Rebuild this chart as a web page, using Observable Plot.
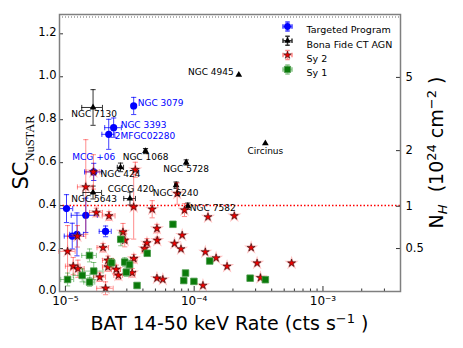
<!DOCTYPE html>
<html><head><meta charset="utf-8">
<script src="https://cdn.jsdelivr.net/npm/d3@7"></script>
<script src="https://cdn.jsdelivr.net/npm/@observablehq/plot@0.6"></script>
<style>body{margin:0;background:#fff}</style>
</head><body><div id="chart"></div>
<script>
// ---------- data ----------
// Targeted Program
const tpNames   = ["NGC 3079","NGC 3393","2MFGC02280","MCG +06","","","","",""];
const tpRate    = [3.39e-5,2.37e-5,2.17e-5,1.66e-5,1.02e-5,1.44e-5,2.05e-5,1.13e-5,1.23e-5];
const tpRateErr = [0.1e-5,0.35e-5,0.25e-5,0.25e-5,0.12e-5,0.33e-5,0.22e-5,0.15e-5,0.15e-5];
const tpSC      = [0.864,0.763,0.732,0.557,0.386,0.355,0.280,0.258,0.266];
const tpSCErr   = [0.04,0.045,0.07,0.04,0.065,0.08,0.025,0.06,0.1];
// Bona Fide CT AGN
const bfNames   = ["NGC 7130","NGC 4945","Circinus","NGC 1068","NGC 424","NGC 5728","NGC 6240","CGCG 420","NGC 5643","NGC 7582"];
const bfRate    = [1.64e-5,2.22e-4,3.57e-4,4.19e-5,2.68e-5,8.67e-5,7.24e-5,3.17e-5,1.64e-5,8.93e-5];
const bfRateErr = [0.3e-5,0,0,0.1e-5,0.15e-5,0.1e-5,0.2e-5,0.33e-5,0.27e-5,0.15e-5];
const bfSC      = [0.857,1.009,0.690,0.654,0.578,0.601,0.495,0.433,0.461,0.397];
const bfSCErr   = [0.083,0,0,0.012,0.02,0.012,0.015,0.03,0.03,0.015];
// Sy 2
const sy2Rate = [1.44e-5,1.65e-5,3.49e-5,3.39e-5,1.74e-5,2.18e-5,4.72e-5,7.38e-5,8.41e-5,1.28e-4,
  1.24e-5,1.04e-5,2.80e-5,2.89e-5,1.96e-5,4.12e-5,5.14e-5,5.17e-5,8.07e-5,4.30e-5,
  7.03e-5,7.90e-5,1.22e-4,1.48e-4,1.80e-4,2.05e-4,2.77e-4,3.08e-4,5.71e-4,3.27e-4,
  1.17e-4,5.14e-5,5.71e-5,1.15e-5,1.25e-5,2.14e-5,2.14e-5,2.48e-5,2.58e-5,3.30e-5,
  3.40e-5,2.05e-5,1.85e-5];
const sy2RateErr = [0.2e-5,0.2e-5,0.12e-5,0.15e-5,0.2e-5,0.25e-5,0.1e-5,0.1e-5,0.1e-5,0,
  0.2e-5,0.15e-5,0.15e-5,0.15e-5,0.2e-5,0.2e-5,0.1e-5,0.1e-5,0,0.15e-5,
  0,0,0,0,0,0,0,0,0,0,
  0,0.1e-5,0,0.15e-5,0.15e-5,0.2e-5,0.2e-5,0.2e-5,0.2e-5,0.2e-5,
  0.2e-5,0.3e-5,0.2e-5];
const sy2SC = [0.487,0.557,0.567,0.394,0.368,0.352,0.383,0.456,0.379,0.347,
  0.257,0.187,0.277,0.238,0.204,0.200,0.293,0.238,0.262,0.226,
  0.223,0.198,0.184,0.156,0.117,0.352,0.204,0.132,0.132,0.064,
  0.028,0.062,0.056,0.118,0.106,0.145,0.114,0.103,0.075,0.087,
  0.153,0.015,0.067];
const sy2SCErr = [0.22,0.08,0.035,0.15,0.02,0.02,0.04,0.05,0.03,0,
  0.05,0.12,0.04,0.03,0.02,0.02,0.02,0.015,0,0.02,
  0,0,0,0,0,0,0,0,0,0,
  0,0,0,0.04,0.04,0.02,0.02,0.02,0.02,0.02,
  0.02,0.03,0.02];
// Sy 1
const sy1Rate = [1.04e-5,1.35e-5,1.54e-5,1.54e-5,1.66e-5,2.28e-5,2.69e-5,2.89e-5,3.15e-5,2.97e-5,3.60e-5,4.32e-5,6.84e-5,8.57e-5,8.30e-5,9.95e-5,1.32e-4,2.72e-4,3.57e-4];
const sy1RateErr = [0.12e-5,0.2e-5,0.2e-5,0.15e-5,0.3e-5,0.15e-5,0.15e-5,0.15e-5,0.15e-5,0.1e-5,0,0,0,0,0,0,0,0,0];
const sy1SC = [0.056,0.075,0.168,0.044,0.095,0.134,0.243,0.137,0.125,0.090,0.028,0.178,0.313,0.086,0.051,0.047,0.142,0.062,0.055];
const sy1SCErr = [0.03,0.03,0.03,0.02,0.04,0.02,0.03,0.02,0.02,0.02,0,0,0,0,0,0,0,0,0];

// axes / reference lines
const xMajorTicks = [1e-5,1e-4,1e-3];
const yTicks = [0,0.2,0.4,0.6,0.8,1.0,1.2];
const nhTickLabels = ["0.5","1","2","5"];
const nhTickSC = [0.2,0.397,0.656,0.997];
const ctThresholdSC = [0.4];
const topLineSC = [1.278];
const seriesNames = ["Targeted Program","Bona Fide CT AGN","Sy 2","Sy 1"];

// ---------- build tables ----------
const mk = (names, rate, rerr, sc, serr) => rate.map((r,i)=>({name: names ? names[i] : "", rate:r, rateErr:rerr[i], sc:sc[i], scErr:serr[i]}));
const tp = mk(tpNames,tpRate,tpRateErr,tpSC,tpSCErr);
const bf = mk(bfNames,bfRate,bfRateErr,bfSC,bfSCErr);
const sy2 = mk(null,sy2Rate,sy2RateErr,sy2SC,sy2SCErr);
const sy1 = mk(null,sy1Rate,sy1RateErr,sy1SC,sy1SCErr);

// ---------- styling ----------
const W = 463, H = 348, mL = 59, mR = 63, mT = 14, mB = 57;
const fw = W - mL - mR, fh = H - mT - mB;
const FONT = "DejaVu Sans";
const hcap = {draw(c,s){const r=Math.sqrt(s/Math.PI);c.moveTo(-r,0);c.lineTo(r,0);}};
const vcap = {draw(c,s){const r=Math.sqrt(s/Math.PI);c.moveTo(0,-r);c.lineTo(0,r);}};
const errCross = {draw(c,s){const r=Math.sqrt(s/Math.PI),k=r*0.5;
  c.moveTo(-r,0);c.lineTo(r,0);c.moveTo(-r,-k);c.lineTo(-r,k);c.moveTo(r,-k);c.lineTo(r,k);
  c.moveTo(0,-r);c.lineTo(0,r);c.moveTo(-k,-r);c.lineTo(k,-r);c.moveTo(-k,r);c.lineTo(k,r);}};

function errorMarks(data, color, opacity) {
  const ye = data.filter(d=>d.scErr>0), xe = data.filter(d=>d.rateErr>0);
  const o = {stroke: color, strokeOpacity: opacity, strokeWidth: 1};
  return [
    Plot.ruleX(ye, {x:"rate", y1:d=>d.sc-d.scErr, y2:d=>d.sc+d.scErr, ...o}),
    Plot.ruleY(xe, {y:"sc", x1:d=>d.rate-d.rateErr, x2:d=>d.rate+d.rateErr, ...o}),
    Plot.dot(ye, {x:"rate", y:d=>d.sc-d.scErr, symbol:hcap, r:2.6, fill:"none", ...o}),
    Plot.dot(ye, {x:"rate", y:d=>d.sc+d.scErr, symbol:hcap, r:2.6, fill:"none", ...o}),
    Plot.dot(xe, {x:d=>d.rate-d.rateErr, y:"sc", symbol:vcap, r:2.6, fill:"none", ...o}),
    Plot.dot(xe, {x:d=>d.rate+d.rateErr, y:"sc", symbol:vcap, r:2.6, fill:"none", ...o})
  ];
}

const seriesStyle = [
  {data: tp,  sym:"circle",   r:3.6, fill:"#0000ff", stroke:"none", sw:0, ecolor:"#0000ff", eop:0.75},
  {data: bf,  sym:"triangle", r:2.5, fill:"#000000", stroke:"none", sw:0, ecolor:"#000000", eop:0.8},
  {data: sy2, sym:"star",     r:2.5, fill:"#ee0000", stroke:"#000", sw:0.5, ecolor:"#ff0000", eop:0.45},
  {data: sy1, sym:"square",   r:3.7, fill:"#0a7a0a", stroke:"#4a9a4a", sw:0.8, ecolor:"#008000", eop:0.45}
];

const labelStyle = [
  {name:"NGC 3079", color:"#0000ff", dx:4, dy:-3, anchor:"start"},
  {name:"NGC 3393", color:"#0000ff", dx:7, dy:-3, anchor:"start"},
  {name:"2MFGC02280", color:"#0000ff", dx:6, dy:2, anchor:"start"},
  {name:"MCG +06", color:"#0000ff", dx:0, dy:-15, anchor:"middle"},
  {name:"NGC 7130", color:"#000", dx:1, dy:7, anchor:"middle"},
  {name:"NGC 1068", color:"#000", dx:0, dy:6, anchor:"middle"},
  {name:"NGC 424", color:"#000", dx:0, dy:7, anchor:"middle"},
  {name:"NGC 5728", color:"#000", dx:0, dy:7, anchor:"middle"},
  {name:"CGCG 420", color:"#000", dx:1, dy:-9, anchor:"middle"},
  {name:"NGC 6240", color:"#000", dx:-0.5, dy:8, anchor:"middle"},
  {name:"NGC 5643", color:"#000", dx:1, dy:7, anchor:"middle"},
  {name:"NGC 7582", color:"#000", dx:2, dy:2, anchor:"start"},
  {name:"NGC 4945", color:"#000", dx:-5, dy:-3, anchor:"end"},
  {name:"Circinus", color:"#000", dx:0, dy:8, anchor:"middle"}
];
const allRows = tp.concat(bf);

const sup = s => s.replace(/-/g,"⁻").replace(/\d/g, c => "⁰¹²³⁴⁵⁶⁷⁸⁹"[+c]);
const xMinor = [];
for (const e of [-6,-5,-4,-3]) for (let m=2;m<=9;m++) { const v = m*Math.pow(10,e); if (v>9e-6 && v<4e-3) xMinor.push(v); }

const marks = [];
// reference lines
marks.push(Plot.ruleY(topLineSC, {y:d=>d, stroke:"#999", strokeWidth:1.5, strokeDasharray:"1,2"}));
marks.push(Plot.ruleY(ctThresholdSC, {y:d=>d, stroke:"#ff0000", strokeWidth:1.5, strokeDasharray:"1.5,2"}));
// series
for (const s of seriesStyle) {
  marks.push(...errorMarks(s.data, s.ecolor, s.eop));
  if (s.sym === "star") marks.push(Plot.dot(s.data, {x:"rate", y:"sc", symbol:"star", r:s.r, fill:"none", stroke:"#ff6060", strokeOpacity:0.4, strokeWidth:2}));
  marks.push(Plot.dot(s.data, {x:"rate", y:"sc", symbol:s.sym, r:s.r, fill:s.fill, stroke:s.stroke, strokeWidth:s.sw}));
}
// labels
for (const l of labelStyle) {
  marks.push(Plot.text(allRows.filter(d=>d.name===l.name), {x:"rate", y:"sc", text:"name", dx:l.dx, dy:l.dy, textAnchor:l.anchor, fill:l.color, fontSize:9}));
}
// ticks
marks.push(Plot.tickX(xMajorTicks, {x:d=>d, insetTop: fh-5, stroke:"#333"}));
marks.push(Plot.tickX(xMinor, {x:d=>d, insetTop: fh-2.5, stroke:"#333"}));
marks.push(Plot.tickY(yTicks, {y:d=>d, insetRight: fw-4, stroke:"#333"}));
marks.push(Plot.tickY(nhTickSC, {y:d=>d, insetLeft: fw-4, stroke:"#333"}));
// axes tick labels
marks.push(Plot.axisX({ticks: xMajorTicks, tickSize:0, tickPadding:4.5, fontSize:12, label:null,
  tickFormat: d => "10" + sup(String(Math.round(Math.log10(d))))}));
marks.push(Plot.axisY({ticks: yTicks, tickSize:0, tickPadding:3, dy:-1.5, fontSize:11.5, label:null, tickFormat: d3.format(".1f")}));
marks.push(Plot.text(nhTickSC.map((v,i)=>({sc:v, label:nhTickLabels[i]})), {y:"sc", text:"label", frameAnchor:"right", dx:5, textAnchor:"start", fontSize:11.5}));
// legend
seriesStyle.forEach((s,i) => {
  const dy = 12 + i*14.3;
  marks.push(Plot.dot([0], {frameAnchor:"top-right", dx:-113, dy, symbol:errCross, r:4.5, fill:"none", stroke:s.ecolor, strokeOpacity:s.eop}));
  marks.push(Plot.dot([0], {frameAnchor:"top-right", dx:-113, dy, symbol:s.sym, r:s.r*0.95, fill:s.fill, stroke:s.stroke, strokeWidth:s.sw}));
  marks.push(Plot.text([seriesNames[i]], {text:d=>d, frameAnchor:"top-right", dx:-94, dy, textAnchor:"start", fontSize:9.5, fill:"#000"}));
});
marks.push(Plot.frame({stroke:"#7f7f7f", strokeWidth:1.5}));

const plot = Plot.plot({
  width: W, height: H,
  marginLeft: mL, marginRight: mR, marginTop: mT, marginBottom: mB,
  style: {fontFamily: FONT, background: "#fff", color: "#000", overflow: "visible"},
  x: {type:"log", domain:[9e-6, 4e-3], axis:null},
  y: {domain:[0, 1.29], axis:null},
  marks
});
document.getElementById("chart").appendChild(plot);

// axis titles with sub/superscripts
const svg = d3.select(plot);
const xl = svg.append("text").attr("x", mL + fw/2).attr("y", 329.5).attr("text-anchor","middle")
  .style("font-family", FONT).style("font-size","19px").attr("fill","#000");
xl.append("tspan").text("BAT 14-50 keV Rate (cts s");
xl.append("tspan").attr("dy",-7).style("font-size","13px").text("−1");
xl.append("tspan").attr("dy",7).text(" )");

const yl = svg.append("text").attr("transform", `translate(28,152.5) rotate(-90)`).attr("text-anchor","middle")
  .style("font-family", FONT).attr("fill","#000");
yl.append("tspan").style("font-size","21px").text("SC");
yl.append("tspan").attr("dy",6).style("font-size","12.5px").style("font-family","Liberation Serif").text("NuSTAR");

const rl = svg.append("text").attr("transform", `translate(443,152.5) rotate(-90)`).attr("text-anchor","middle")
  .style("font-family", FONT).style("font-size","19px").attr("fill","#000");
rl.append("tspan").text("N");
rl.append("tspan").attr("dy",4).style("font-size","13px").style("font-style","italic").text("H");
rl.append("tspan").attr("dy",-4).text("  (10");
rl.append("tspan").attr("dy",-7).style("font-size","13px").text("24");
rl.append("tspan").attr("dy",7).text(" cm");
rl.append("tspan").attr("dy",-7).style("font-size","13px").text("−2");
rl.append("tspan").attr("dy",7).text(" )");
</script>
</body></html>
